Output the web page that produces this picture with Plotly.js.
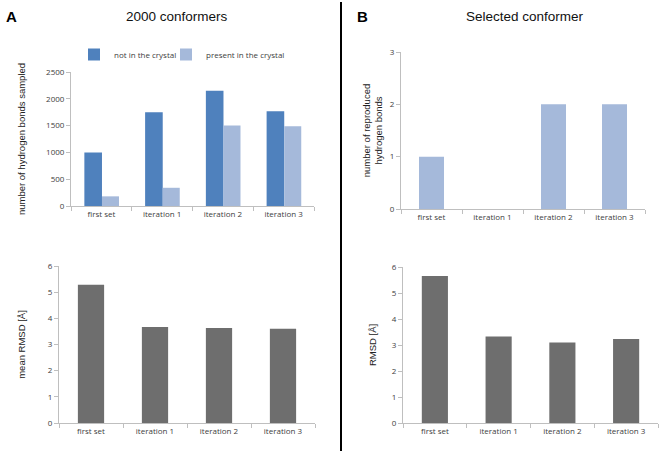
<!DOCTYPE html>
<html>
<head>
<meta charset="utf-8">
<script src="https://cdn.plot.ly/plotly-3.0.1.min.js"></script>
<style>html,body{margin:0;padding:0;background:#fff;}#chart{width:662px;height:453px;}</style>
</head>
<body>
<div id="chart"></div>
<script>
const categories = ["first set", "iteration 1", "iteration 2", "iteration 3"];
const notInCrystal = [1000, 1750, 2150, 1770];
const presentInCrystal = [180, 340, 1500, 1490];
const reproducedHBonds = [1, 0, 2, 2];
const meanRMSD = [5.28, 3.67, 3.63, 3.60];
const selectedRMSD = [5.65, 3.33, 3.10, 3.23];

const darkBlue = "#4F81BD";
const lightBlue = "#A5B9DA";
const gray = "#6E6E6E";

const traces = [
  {type: "bar", x: categories, y: notInCrystal, name: "not in the crystal", marker: {color: darkBlue},
   xaxis: "x", yaxis: "y", width: 0.29, offset: -0.28, legend: "legend"},
  {type: "bar", x: categories, y: presentInCrystal, name: "present in the crystal", marker: {color: lightBlue},
   xaxis: "x", yaxis: "y", width: 0.28, offset: 0.01, legend: "legend2"},
  {type: "bar", x: categories, y: reproducedHBonds, name: "reproduced", marker: {color: lightBlue},
   xaxis: "x2", yaxis: "y2", showlegend: false},
  {type: "bar", x: categories, y: meanRMSD, name: "mean RMSD", marker: {color: gray},
   xaxis: "x3", yaxis: "y3", showlegend: false},
  {type: "bar", x: categories, y: selectedRMSD, name: "RMSD", marker: {color: gray},
   xaxis: "x4", yaxis: "y4", showlegend: false}
];

const W = 662, H = 453;
const px = v => v / W;
const py = v => (H - v) / H;

const tickFont = {family: "Open Sans, Liberation Sans, sans-serif", size: 8, color: "#404040"};
const titleFont = {family: "Liberation Sans, Arial, sans-serif", size: 9.5, color: "#222"};
const legendFont = {family: "Open Sans, Liberation Sans, sans-serif", size: 8, color: "#404040"};

function xax(d, anchor) {
  return {domain: d, anchor: anchor, showline: true, linecolor: "#BFBFBF", linewidth: 1,
    ticks: "outside", ticklen: 4, tickcolor: "#BFBFBF", tickson: "boundaries",
    showgrid: false, zeroline: false, tickfont: tickFont, fixedrange: true};
}
function yax(d, anchor, range, dtick, title, standoff) {
  return {domain: d, anchor: anchor, range: range, dtick: dtick, showline: true, linecolor: "#BFBFBF",
    linewidth: 1, ticks: "outside", ticklen: 4, tickcolor: "#BFBFBF", showgrid: false, zeroline: false,
    tickfont: tickFont, fixedrange: true,
    title: {text: title, font: titleFont, standoff: standoff}};
}

const layout = {
  width: W, height: H,
  margin: {l: 0, r: 0, t: 0, b: 0},
  paper_bgcolor: "#fff", plot_bgcolor: "#fff",
  bargap: 0.59,
  showlegend: true,
  legend: {orientation: "h", x: px(74), y: py(40), xanchor: "left", yanchor: "top",
    font: legendFont, itemwidth: 30, bgcolor: "rgba(0,0,0,0)"},
  legend2: {orientation: "h", x: px(166), y: py(40), xanchor: "left", yanchor: "top",
    font: legendFont, itemwidth: 30, bgcolor: "rgba(0,0,0,0)"},
  xaxis: xax([px(71), px(314)], "y"),
  yaxis: yax([py(206), py(72)], "x", [0, 2500], 500, "number of hydrogen bonds sampled", 18),
  xaxis2: xax([px(401), px(645)], "y2"),
  yaxis2: yax([py(209), py(52)], "x2", [0, 3], 1, "number of reproduced<br>hydrogen bonds", 5),
  xaxis3: xax([px(59), px(315)], "y3"),
  yaxis3: yax([py(423), py(266)], "x3", [0, 6], 1, "mean RMSD [Å]", 20),
  xaxis4: xax([px(403), px(658)], "y4"),
  yaxis4: yax([py(423), py(267)], "x4", [0, 6], 1, "RMSD [Å]", 13),
  annotations: [
    {text: "<b>A</b>", x: px(4), y: py(17), xref: "paper", yref: "paper", xanchor: "left", yanchor: "middle",
     showarrow: false, font: {family: "Liberation Sans, Arial, sans-serif", size: 15, color: "#000"}},
    {text: "2000 conformers", x: px(177), y: py(17), xref: "paper", yref: "paper", xanchor: "center", yanchor: "middle",
     showarrow: false, font: {family: "Liberation Sans, Arial, sans-serif", size: 13.5, color: "#111"}},
    {text: "<b>B</b>", x: px(355), y: py(17), xref: "paper", yref: "paper", xanchor: "left", yanchor: "middle",
     showarrow: false, font: {family: "Liberation Sans, Arial, sans-serif", size: 15, color: "#000"}},
    {text: "Selected conformer", x: px(525), y: py(17), xref: "paper", yref: "paper", xanchor: "center", yanchor: "middle",
     showarrow: false, font: {family: "Liberation Sans, Arial, sans-serif", size: 13.5, color: "#111"}}
  ],
  shapes: [
    {type: "line", xref: "paper", yref: "paper", x0: px(341), x1: px(341), y0: py(451), y1: py(2),
     line: {color: "#000", width: 2}}
  ]
};

Plotly.newPlot("chart", traces, layout, {displayModeBar: false, staticPlot: true});
</script>
</body>
</html>
